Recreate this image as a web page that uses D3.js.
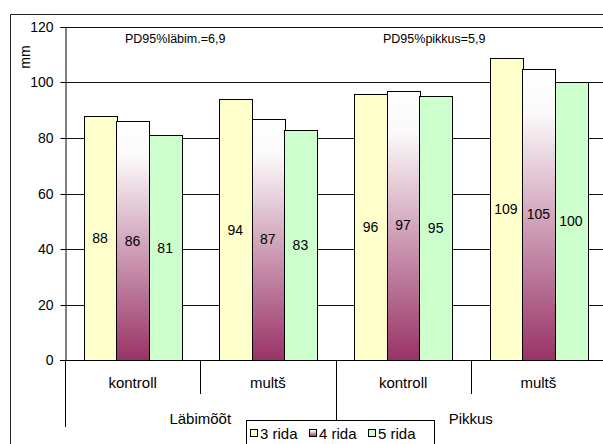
<!DOCTYPE html>
<html>
<head>
<meta charset="utf-8">
<script src="https://cdn.jsdelivr.net/npm/d3@7"></script>
<style>
  html, body { margin: 0; padding: 0; background: #fff; }
  svg { display: block; font-family: Arial, "Liberation Sans", sans-serif; }
</style>
</head>
<body>
<svg id="chart" width="603" height="444"></svg>
<script>
// Subcategories, their parent groups and the three row-spacing series
const categories = ["kontroll", "multš", "kontroll", "multš"];
const groups = ["Läbimõõt", "Pikkus"];
const groupSpan = [2, 2];
const series = ["3 rida", "4 rida", "5 rida"];
const values3 = [88, 94, 96, 109];
const values4 = [86, 87, 97, 105];
const values5 = [81, 83, 95, 100];
const yTicks = [0, 20, 40, 60, 80, 100, 120];
const notes = ["PD95%läbim.=6,9", "PD95%pikkus=5,9"];
const yTitle = "mm";

const seriesValues = [values3, values4, values5];
const fills = ["#FFFFCC", "url(#grad4)", "#CCFFCC"];

const svg = d3.select("#chart");
const plot = { left: 65, right: 606, top: 27, bottom: 360 };
const crisp = v => Math.round(v) + 0.5;

// gradient for the middle series: white at the top fading to plum at the base
const defs = svg.append("defs");
const g4 = defs.append("linearGradient").attr("id", "grad4")
  .attr("x1", 0).attr("y1", 0).attr("x2", 0).attr("y2", 1);
g4.append("stop").attr("offset", "0%").attr("stop-color", "#FFFFFF");
g4.append("stop").attr("offset", "15%").attr("stop-color", "#FBF9FA");
g4.append("stop").attr("offset", "100%").attr("stop-color", "#993366");

// outer frame of the chart
svg.append("path")
  .attr("d", "M10.5,460V14.5H640")
  .attr("fill", "none").attr("stroke", "#222").attr("stroke-width", 1);

const x0 = d3.scaleBand().domain(d3.range(categories.length))
  .range([plot.left, plot.right]).padding(0);
const x1 = d3.scaleBand().domain(series)
  .range([0, x0.bandwidth()]).paddingInner(0).paddingOuter(0.58);
const y = d3.scaleLinear().domain([0, 120]).range([plot.bottom, plot.top]);

// horizontal gridlines
svg.append("g").selectAll("line").data(yTicks.filter(t => t > 0)).join("line")
  .attr("x1", plot.left).attr("x2", plot.right)
  .attr("y1", d => crisp(y(d))).attr("y2", d => crisp(y(d)))
  .attr("stroke", "#111").attr("stroke-width", 1);

// value axis
const yAxis = svg.append("g")
  .attr("transform", `translate(${crisp(plot.left)},0)`)
  .call(d3.axisLeft(y).tickValues(yTicks).tickSize(5).tickPadding(7)
    .tickFormat(d3.format("d")));
yAxis.select(".domain").attr("stroke", "#000");
yAxis.selectAll(".tick line").attr("stroke", "#000");
yAxis.selectAll(".tick").attr("transform", d => `translate(0,${crisp(y(d))})`);
yAxis.selectAll(".tick text").attr("font-size", 14).attr("fill", "#000")
  .attr("font-family", "Arial, 'Liberation Sans', sans-serif");

svg.append("text")
  .attr("transform", "translate(30,57) rotate(-90)")
  .attr("text-anchor", "middle")
  .attr("font-size", 14).attr("fill", "#000")
  .text(yTitle);

// bars with their value labels centred inside
const barG = svg.append("g");
categories.forEach((c, i) => {
  series.forEach((s, k) => {
    const v = seriesValues[k][i];
    const bx = x0(i) + x1(s);
    barG.append("rect")
      .attr("x", Math.round(bx) + 0.5)
      .attr("y", Math.round(y(v)) + 0.5)
      .attr("width", Math.round(x1.bandwidth()))
      .attr("height", Math.round(y(0)) - Math.round(y(v)))
      .attr("fill", fills[k])
      .attr("stroke", "#000").attr("stroke-width", 1);
    barG.append("text")
      .attr("x", bx + x1.bandwidth() / 2)
      .attr("y", (y(v) + y(0)) / 2)
      .attr("dy", "0.36em")
      .attr("text-anchor", "middle")
      .attr("font-size", 14).attr("fill", "#000")
      .text(v);
  });
});

// category axis baseline
svg.append("line")
  .attr("x1", plot.left - 5).attr("x2", plot.right)
  .attr("y1", crisp(y(0))).attr("y2", crisp(y(0)))
  .attr("stroke", "#000");

// two-level category axis: separators and labels
const catAxis = svg.append("g");
const boundaries = [];
let start = 0;
groupSpan.forEach((n, gi) => {
  boundaries.push({ pos: x0(start), long: true });
  for (let j = 1; j < n; j++) boundaries.push({ pos: x0(start + j), long: false });
  const gx = (x0(start) + x0(start + n - 1) + x0.bandwidth()) / 2;
  catAxis.append("text")
    .attr("x", gx).attr("y", 424)
    .attr("text-anchor", "middle")
    .attr("font-size", 15).attr("fill", "#000")
    .text(groups[gi]);
  start += n;
});
boundaries.push({ pos: plot.right, long: true });

catAxis.selectAll("line").data(boundaries).join("line")
  .attr("x1", d => crisp(d.pos)).attr("x2", d => crisp(d.pos))
  .attr("y1", crisp(y(0))).attr("y2", d => d.long ? 427 : 394)
  .attr("stroke", "#000");

catAxis.selectAll("text.cat").data(categories).join("text")
  .attr("class", "cat")
  .attr("x", (d, i) => x0(i) + x0.bandwidth() / 2)
  .attr("y", 388)
  .attr("text-anchor", "middle")
  .attr("font-size", 15).attr("fill", "#000")
  .text(d => d);

// PD95 notes above each group
svg.selectAll("text.note").data(notes).join("text")
  .attr("class", "note")
  .attr("x", (d, i) => [125, 383][i])
  .attr("y", 42.5)
  .attr("font-size", 12.5).attr("fill", "#000")
  .text(d => d);

// legend
const leg = svg.append("g");
leg.append("rect")
  .attr("x", 246.5).attr("y", 420.5).attr("width", 188).attr("height", 40)
  .attr("fill", "#fff").attr("stroke", "#000");
const legItems = leg.selectAll("g.item").data(series).join("g")
  .attr("class", "item")
  .attr("transform", (d, i) => `translate(${250 + i * 59},0)`);
legItems.append("rect")
  .attr("x", 0.5).attr("y", 429.5).attr("width", 7).attr("height", 7)
  .attr("fill", (d, i) => fills[i]).attr("stroke", "#000");
legItems.append("text")
  .attr("x", 10).attr("y", 438.5)
  .attr("font-size", 15).attr("fill", "#000")
  .text(d => d);
</script>
</body>
</html>
